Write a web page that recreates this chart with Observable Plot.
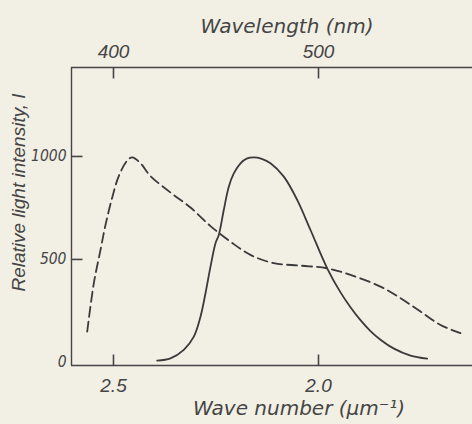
<!DOCTYPE html>
<html><head><meta charset="utf-8">
<script src="https://cdn.jsdelivr.net/npm/d3@7"></script>
<script src="https://cdn.jsdelivr.net/npm/@observablehq/plot@0.6"></script>
<style>
html,body{margin:0;padding:0;background:#f2efe4;overflow:hidden;}
</style></head><body><div id="chart"></div>
<script>
// Solid curve (wave number in µm^-1, relative intensity)
const solidWave = [2.3934, 2.3610, 2.3285, 2.3041, 2.2878, 2.2756, 2.2634, 2.2512, 2.2432, 2.2310, 2.2188, 2.2066, 2.1902, 2.1739, 2.1578, 2.1400, 2.1171, 2.0846, 2.0520, 2.0195, 1.9788, 1.9463, 1.9220, 1.8976, 1.8732, 1.8488, 1.8171, 1.7756, 1.7349];
const solidI    = [9, 20, 61, 125, 222, 336, 465, 579, 619, 740, 853, 918, 967, 991, 996, 990, 967, 902, 789, 643, 457, 340, 268, 205, 152, 110, 68, 33, 18];
// Dashed curve
const dashedWave = [2.5641, 2.5480, 2.5317, 2.5195, 2.5032, 2.4871, 2.4666, 2.4544, 2.4341, 2.4098, 2.3610, 2.3122, 2.2634, 2.2146, 2.1659, 2.1090, 2.0439, 1.9788, 1.9220, 1.8488, 1.8000, 1.7512, 1.7024, 1.6537];
const dashedI    = [150, 384, 546, 667, 800, 905, 980, 996, 967, 905, 825, 752, 662, 586, 522, 482, 470, 457, 425, 368, 312, 247, 182, 142];

const bottomTicks = [2.5, 2.0];        // wave number, µm^-1
const topTicksNm = [400, 500];          // wavelength, nm
const yTicks = [0, 500, 1000];
const xDomain = [2.6024, 1.6244];
const yDomain = [-15, 1432];

const titleTop = "Wavelength (nm)";
const titleBottom = "Wave number (\u00b5m\u207b\u00b9)";
const titleLeft = "Relative light intensity, I";

const solid = solidWave.map((w, i) => ({w, v: solidI[i]}));
const dashed = dashedWave.map((w, i) => ({w, v: dashedI[i]}));

const W = 472, H = 424, mL = 71, mR = 0, mT = 67, mB = 59;
const tickLen = 11; // px, pointing inward
const xTick = tickLen * (xDomain[0] - xDomain[1]) / (W - mL - mR);
const yTick = tickLen * (yDomain[1] - yDomain[0]) / (H - mT - mB);

const ink = "#454545";
const titleFont = "DejaVu Sans, sans-serif";
const tickFont = "Liberation Sans, sans-serif";
const narrowFont = "Liberation Sans Narrow, DejaVu Sans Condensed, sans-serif";

const tickRows = [
  ...bottomTicks.map(x => ({x1: x, x2: x, y1: yDomain[0], y2: yDomain[0] + yTick})),
  ...topTicksNm.map(nm => ({x1: 1000 / nm, x2: 1000 / nm, y1: yDomain[1], y2: yDomain[1] - yTick})),
  ...yTicks.filter(d => d > 0).map(y => ({x1: xDomain[0], x2: xDomain[0] - xTick, y1: y, y2: y}))
];

const chart = Plot.plot({
  width: W,
  height: H,
  marginLeft: mL,
  marginRight: mR,
  marginTop: mT,
  marginBottom: mB,
  style: {background: "#f2efe4", color: ink, overflow: "visible"},
  x: {domain: xDomain},
  y: {domain: yDomain},
  marks: [
    // frame edges (left, bottom, top; the right edge is cropped away)
    Plot.ruleY([yDomain[0]], {stroke: ink, strokeWidth: 1.4}),
    Plot.ruleY([yDomain[1]], {stroke: ink, strokeWidth: 1.4}),
    Plot.ruleX([xDomain[0]], {stroke: ink, strokeWidth: 1.4}),
    // inward ticks
    Plot.link(tickRows, {x1: "x1", x2: "x2", y1: "y1", y2: "y2", stroke: ink, strokeWidth: 1.6}),
    // curves
    Plot.line(dashed, {x: "w", y: "v", stroke: "#3a3a3a", strokeWidth: 1.8, strokeDasharray: "10,5", curve: "catmull-rom"}),
    Plot.line(solid, {x: "w", y: "v", stroke: "#3a3a3a", strokeWidth: 1.8, curve: "catmull-rom"}),
    // tick labels
    Plot.axisX({anchor: "bottom", ticks: bottomTicks, tickFormat: d3.format(".1f"), tickSize: 0, tickPadding: 12.5, label: null,
      fontSize: 19, fontStyle: "italic", fontFamily: tickFont, color: ink}),
    Plot.axisX({anchor: "top", ticks: topTicksNm.map(nm => 1000 / nm), tickFormat: d => d3.format("d")(Math.round(1000 / d)), tickSize: 0, tickPadding: 10, label: null,
      fontSize: 19, fontStyle: "italic", fontFamily: tickFont, color: ink}),
    Plot.axisY({anchor: "left", ticks: yTicks, tickFormat: d3.format("d"), tickSize: 0, tickPadding: 5, label: null,
      fontSize: 15.5, fontStyle: "italic", fontFamily: narrowFont, color: ink}),
    // titles
    Plot.text([titleTop], {frameAnchor: "top", dx: 15, dy: -35, lineAnchor: "bottom", textAnchor: "middle", fontSize: 20, fontStyle: "italic", fontFamily: titleFont, fill: ink}),
    Plot.text([titleBottom], {frameAnchor: "bottom", dx: 27, dy: 49.5, lineAnchor: "bottom", textAnchor: "middle", fontSize: 20, fontStyle: "italic", fontFamily: titleFont, fill: ink}),
    Plot.text([titleLeft], {frameAnchor: "left", dx: -53, dy: -24, rotate: -90, lineAnchor: "middle", textAnchor: "middle", fontSize: 19, fontStyle: "italic", fontFamily: tickFont, fill: ink})
  ]
});
document.getElementById("chart").appendChild(chart);
</script>
</body></html>
